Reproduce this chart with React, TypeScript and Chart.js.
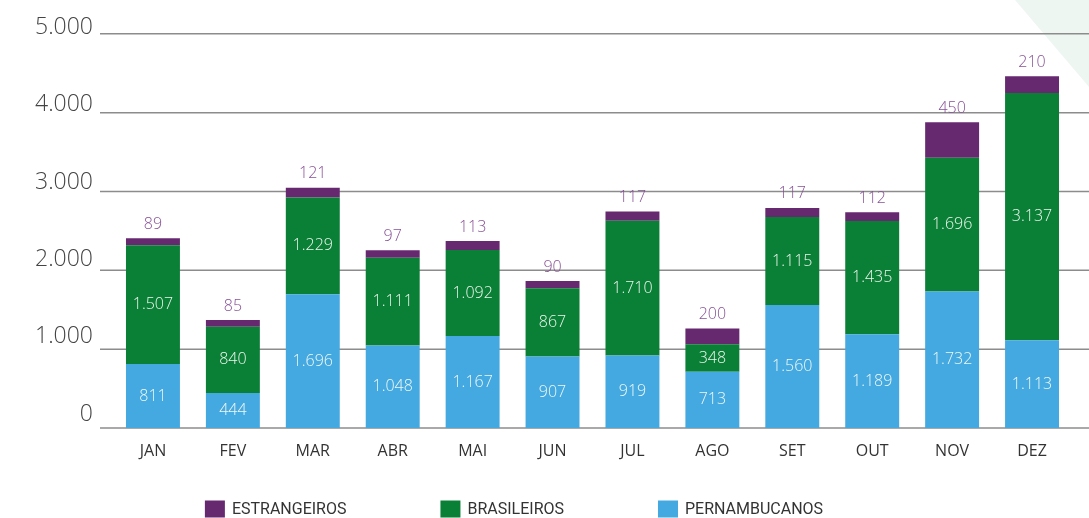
import React, { useEffect, useRef } from "react";
import { Chart, registerables } from "chart.js";

Chart.register(...registerables);

const months = ["JAN", "FEV", "MAR", "ABR", "MAI", "JUN", "JUL", "AGO", "SET", "OUT", "NOV", "DEZ"];
const pernambucanos = [811, 444, 1696, 1048, 1167, 907, 919, 713, 1560, 1189, 1732, 1113];
const brasileiros = [1507, 840, 1229, 1111, 1092, 867, 1710, 348, 1115, 1435, 1696, 3137];
const estrangeiros = [89, 85, 121, 97, 113, 90, 117, 200, 117, 112, 450, 210];
const yTicks = [0, 1000, 2000, 3000, 4000, 5000];

const BLUE = "#43a9e0";
const GREEN = "#0a7f36";
const PURPLE = "#66296f";
const NUM_FONT = "'Open Sans', 'DejaVu Sans', sans-serif";

const fmt = (n: number) => String(n).replace(/\B(?=(\d{3})+(?!\d))/g, ".");

const bgPlugin = {
  id: "bgShape",
  beforeDraw(chart: any) {
    const { ctx, width } = chart;
    ctx.save();
    ctx.fillStyle = "#eef6f2";
    ctx.beginPath();
    ctx.moveTo(width - 74, 0);
    ctx.lineTo(width, 0);
    ctx.lineTo(width, 87);
    ctx.closePath();
    ctx.fill();
    ctx.restore();
  },
};

const gridPlugin = {
  id: "fullGrid",
  beforeDatasetsDraw(chart: any) {
    const { ctx, width } = chart;
    const y = chart.scales.y;
    ctx.save();
    ctx.strokeStyle = "#8c8c8c";
    ctx.lineWidth = 1.5;
    for (const v of yTicks) {
      const py = y.getPixelForValue(v);
      ctx.beginPath();
      ctx.moveTo(100, py);
      ctx.lineTo(width, py);
      ctx.stroke();
    }
    ctx.restore();
  },
};

const valuePlugin = {
  id: "valueLabels",
  afterDatasetsDraw(chart: any) {
    const { ctx } = chart;
    ctx.save();
    ctx.textAlign = "center";
    ctx.textBaseline = "middle";
    chart.data.datasets.forEach((ds: any, di: number) => {
      const meta = chart.getDatasetMeta(di);
      meta.data.forEach((el: any, i: number) => {
        const v = ds.data[i] as number;
        if (di === 2) {
          ctx.fillStyle = "#875196";
          ctx.font = `300 16px ${NUM_FONT}`;
          ctx.fillText(fmt(v), el.x, el.y - 14);
        } else {
          ctx.fillStyle = "rgba(250,252,248,0.95)";
          ctx.font = `300 16px ${NUM_FONT}`;
          ctx.fillText(fmt(v), el.x, (el.y + el.base) / 2);
        }
      });
    });
    ctx.restore();
  },
};

const legendPlugin = {
  id: "customLegend",
  afterDraw(chart: any) {
    const { ctx } = chart;
    const items = chart.data.datasets.slice().reverse();
    const font = "16px Roboto, 'Liberation Sans', sans-serif";
    const box = 20;
    const boxGap = 7;
    const gap = 94;
    const centerX = 514;
    const cy = 509;
    ctx.save();
    ctx.font = font;
    const widths = items.map((d: any) => box + boxGap + ctx.measureText(d.label).width);
    const total = widths.reduce((a: number, b: number) => a + b, 0) + gap * (items.length - 1);
    let x = centerX - total / 2;
    items.forEach((d: any, i: number) => {
      ctx.fillStyle = d.backgroundColor;
      ctx.fillRect(x, cy - 8.5, box, 17);
      ctx.fillStyle = "#333333";
      ctx.textAlign = "left";
      ctx.textBaseline = "middle";
      ctx.fillText(d.label, x + box + boxGap, cy + 1);
      x += widths[i] + gap;
    });
    ctx.restore();
  },
};

export default function App() {
  const ref = useRef<HTMLCanvasElement | null>(null);
  useEffect(() => {
    if (!ref.current) return;
    const chart = new Chart(ref.current, {
      type: "bar",
      data: {
        labels: months,
        datasets: [
          { label: "PERNAMBUCANOS", data: pernambucanos, backgroundColor: BLUE },
          { label: "BRASILEIROS", data: brasileiros, backgroundColor: GREEN },
          { label: "ESTRANGEIROS", data: estrangeiros, backgroundColor: PURPLE },
        ],
      },
      options: {
        animation: false,
        responsive: false,
        devicePixelRatio: 1,
        layout: { padding: { top: 33, right: 17, bottom: 50, left: 0 } },
        datasets: { bar: { categoryPercentage: 1, barPercentage: 0.675 } },
        plugins: { legend: { display: false }, tooltip: { enabled: false } },
        scales: {
          x: {
            stacked: true,
            grid: { display: false, drawTicks: false, tickLength: 0 },
            border: { display: false },
            ticks: { color: "#333333", font: { family: NUM_FONT, size: 16 }, padding: 14 },
            afterFit(scale: any) {
              scale.height = 40;
            },
          },
          y: {
            stacked: true,
            display: false,
            min: 0,
            max: 5000,
          },
          yLab: {
            position: "left",
            min: -178,
            max: 4920,
            grid: { display: false, drawTicks: false, tickLength: 0 },
            border: { display: false },
            ticks: {
              color: "#444444",
              font: { family: NUM_FONT, size: 23, weight: "300" },
              padding: 20,
              callback: (v: any) => fmt(Number(v)),
            },
            afterBuildTicks(scale: any) {
              scale.ticks = yTicks.map((v) => ({ value: v }));
            },
            afterFit(scale: any) {
              scale.width = 113;
            },
          },
        },
      },
      plugins: [bgPlugin, gridPlugin, valuePlugin, legendPlugin],
    });
    return () => chart.destroy();
  }, []);
  return (
    <div style={{ position: "absolute", left: 0, top: 0, width: 1089, height: 518, background: "#ffffff" }}>
      <canvas ref={ref} width={1089} height={518} style={{ display: "block" }} />
    </div>
  );
}
